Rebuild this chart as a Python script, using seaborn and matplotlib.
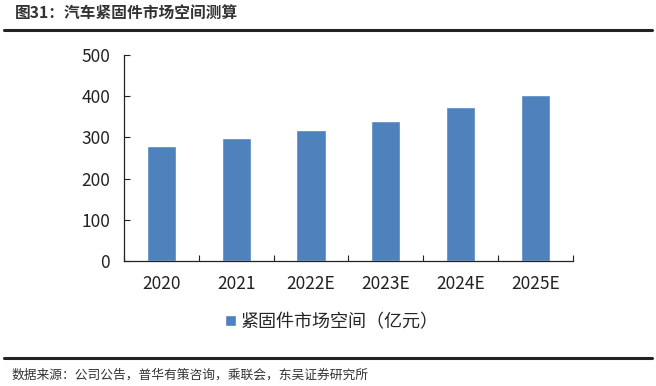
import numpy as np
import matplotlib
matplotlib.use('Agg')
import matplotlib.pyplot as plt
import seaborn as sns
from matplotlib.lines import Line2D

# 数据
years = ['2020', '2021', '2022E', '2023E', '2024E', '2025E']
market = [280, 298, 318, 341, 373, 403]
series_name = '紧固件市场空间（亿元）'
title = '图31：汽车紧固件市场空间测算'
source = '数据来源：公司公告，普华有策咨询，乘联会，东吴证券研究所'

sns.set_style('white')
plt.rcParams['font.family'] = ['Noto Sans CJK SC', 'DejaVu Sans']

fig = plt.figure(figsize=(6.56, 3.86), dpi=100)
ax = fig.add_axes([0.189, 0.3238, 0.684, 0.5337])

sns.barplot(x=years, y=market, color='#4F81BD', width=0.39, saturation=1,
            label=series_name, ax=ax)

ax.set_ylim(0, 500)
ax.set_xlim(-0.5, 5.5)
ax.set_yticks([0, 100, 200, 300, 400, 500])
ax.tick_params(axis='y', direction='in', length=4, width=0.8, labelsize=12.5,
               pad=10, colors='#222222', left=True)
ax.tick_params(axis='x', which='major', length=0, labelsize=12.5, pad=10,
               colors='#222222')
ax.set_xticks(np.arange(-0.5, 6, 1), minor=True)
ax.tick_params(axis='x', which='minor', direction='in', length=4, width=0.8,
               bottom=True, color='#222222')
for s in ['top', 'right']:
    ax.spines[s].set_visible(False)
for s in ['left', 'bottom']:
    ax.spines[s].set_color('#222222')
    ax.spines[s].set_linewidth(0.9)
ax.set_xlabel('')
ax.set_ylabel('')

if ax.legend_:
    ax.legend_.remove()
h, l = ax.get_legend_handles_labels()
fig.legend(h[:1], l[:1], loc='center', bbox_to_anchor=(332 / 656, 1 - 322 / 386),
           frameon=False, fontsize=13, handlelength=0.6, handleheight=0.6,
           handletextpad=0.3)

# 标题和来源
fig.text(15 / 656, 1 - 13 / 386, title, fontsize=11.3, fontweight='bold',
         va='center', ha='left', color='#333333')
fig.add_artist(Line2D([4 / 656, 652 / 656], [1 - 29.5 / 386] * 2,
                      transform=fig.transFigure, color='#222222', lw=2.2))
fig.add_artist(Line2D([4 / 656, 652 / 656], [1 - 357.5 / 386] * 2,
                      transform=fig.transFigure, color='#222222', lw=2.2))
fig.text(12 / 656, 1 - 375 / 386, source, fontsize=9.2, va='center',
         ha='left', color='#333333')

fig.savefig('out.png', dpi=100)
